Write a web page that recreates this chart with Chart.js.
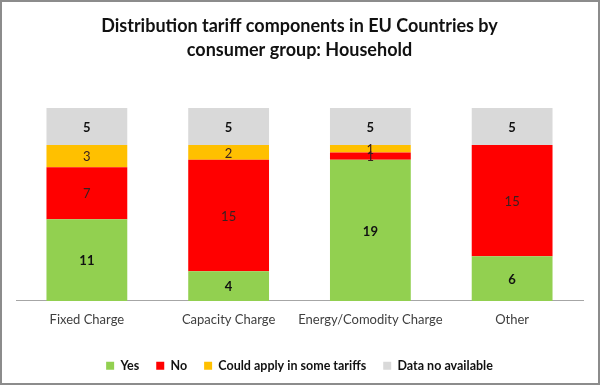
<!DOCTYPE html>
<html>
<head>
<meta charset="utf-8">
<script src="https://cdn.jsdelivr.net/npm/chart.js@4"></script>
<style>
  html, body { margin: 0; padding: 0; background: #fff; }
  #wrap { width: 600px; height: 385px; position: relative; }
</style>
</head>
<body>
<div id="wrap"><canvas id="tariffChart" width="600" height="385"></canvas></div>
<script>
(function () {
  "use strict";

  var categories = ["Fixed Charge", "Capacity Charge", "Energy/Comodity Charge", "Other"];
  var yesValues = [11, 4, 19, 6];
  var noValues = [7, 15, 1, 15];
  var couldValues = [3, 2, 1, 0];
  var naValues = [5, 5, 5, 5];
  var titleLines = ["Distribution tariff components in EU Countries by", "consumer group: Household"];

  var colors = {
    yes: "#92d050",
    no: "#ff0000",
    could: "#ffc000",
    na: "#d9d9d9",
    text: "#404040",
    axis: "#a6a6a6",
  };

  var fontFamily = "Lato, 'Open Sans', sans-serif";

  // draws the value in the middle of every segment
  var segmentLabels = {
    id: "segmentLabels",
    afterDatasetsDraw: function (chart) {
      var ctx = chart.ctx;
      ctx.save();
      ctx.textAlign = "center";
      ctx.textBaseline = "middle";
      chart.data.datasets.forEach(function (ds, i) {
        var meta = chart.getDatasetMeta(i);
        meta.data.forEach(function (bar, j) {
          var v = ds.data[j];
          if (!v) return;
          var bold = ds.boldLabels;
          ctx.font = (bold ? "bold " : "") + "13px " + fontFamily;
          ctx.fillStyle = bold ? "#111" : "#3a2020";
          ctx.fillText(String(v), bar.x, (bar.y + bar.base) / 2 + 1);
        });
      });
      ctx.restore();
    },
  };

  var frame = {
    id: "frame",
    afterDraw: function (chart) {
      var ctx = chart.ctx;
      ctx.save();
      ctx.strokeStyle = "#8c8c8c";
      ctx.lineWidth = 2;
      ctx.strokeRect(1, 1, chart.width - 2, chart.height - 2);
      ctx.restore();
    },
  };

  function ds(label, data, color, bold) {
    return {
      label: label,
      data: data,
      backgroundColor: color,
      borderWidth: 0,
      barPercentage: 0.57,
      categoryPercentage: 1,
      boldLabels: bold,
    };
  }

  new Chart(document.getElementById("tariffChart"), {
    type: "bar",
    data: {
      labels: categories,
      datasets: [
        ds("Yes", yesValues, colors.yes, true),
        ds("No", noValues, colors.no, false),
        ds("Could apply in some tariffs", couldValues, colors.could, false),
        ds("Data no available", naValues, colors.na, true),
      ],
    },
    plugins: [segmentLabels, frame],
    options: {
      responsive: false,
      animation: false,
      layout: { padding: { left: 16, right: 17, top: 0, bottom: 3 } },
      plugins: {
        title: {
          display: true,
          text: titleLines,
          color: "#111",
          font: { family: fontFamily, size: 18, weight: "bold", lineHeight: 1.33 },
          padding: { top: 14, bottom: 46 },
        },
        legend: {
          position: "bottom",
          labels: {
            color: "#111",
            font: { family: fontFamily, size: 12.5, weight: "bold" },
            boxWidth: 8,
            boxHeight: 8,
            padding: 17,
          },
        },
        tooltip: { enabled: false },
      },
      scales: {
        x: {
          stacked: true,
          grid: { display: false },
          border: { display: true, color: colors.axis, width: 1 },
          ticks: {
            color: colors.text,
            font: { family: fontFamily, size: 13 },
            padding: 3,
            maxRotation: 0,
            autoSkip: false,
          },
          afterFit: function (scale) {
            scale.height += 12;
          },
        },
        y: {
          stacked: true,
          display: false,
          min: 0,
          max: 26,
        },
      },
    },
  });
})();
</script>
</body>
</html>
